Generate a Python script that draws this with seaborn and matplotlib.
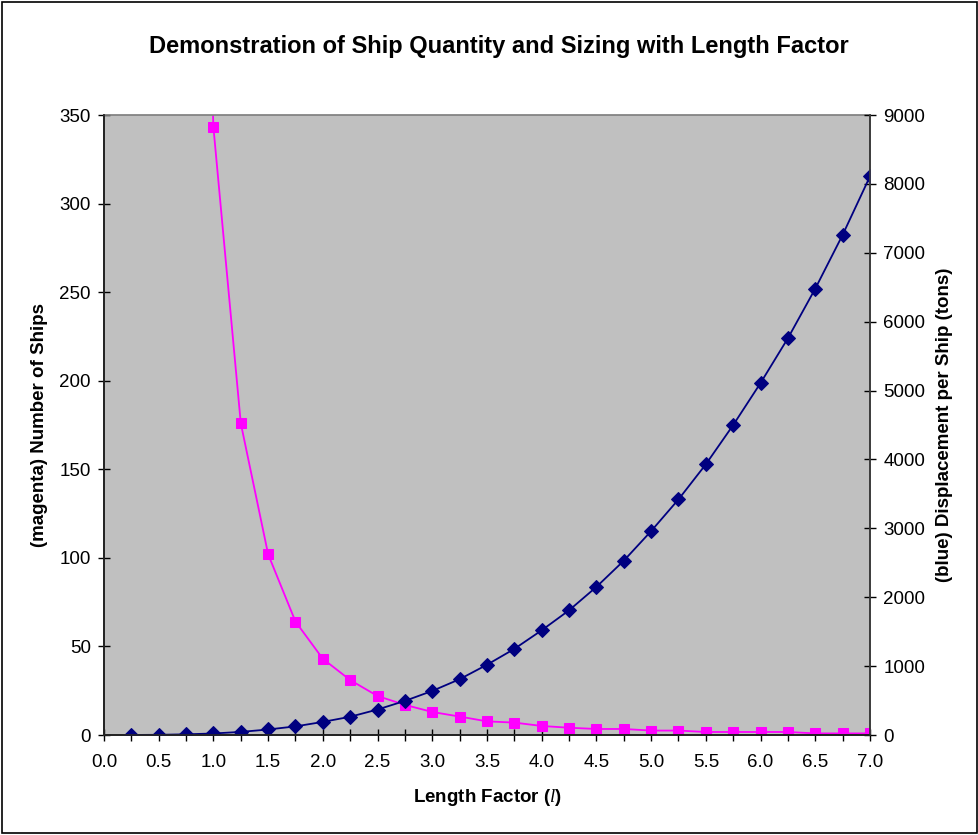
import numpy as np
import pandas as pd
import matplotlib
matplotlib.use("Agg")
import matplotlib.pyplot as plt
import matplotlib.ticker as mticker
import seaborn as sns

# length factor steps
length_factor = [0.25, 0.5, 0.75, 1.0, 1.25, 1.5, 1.75, 2.0, 2.25, 2.5, 2.75, 3.0,
                 3.25, 3.5, 3.75, 4.0, 4.25, 4.5, 4.75, 5.0, 5.25, 5.5, 5.75, 6.0,
                 6.25, 6.5, 6.75, 7.0]

# magenta series (first points are off the top of the chart)
num_ships = [21950, 2744, 813, 343, 176, 102, 64, 43, 31, 22, 17, 13,
             10.4, 7.7, 7, 5.1, 4.1, 3.4, 3.4, 2.5, 2.5, 1.7, 1.7, 1.7,
             1.7, 0.9, 0.9, 0.9]

# blue series, tons
displacement = [0.4, 3, 10, 22, 45, 80, 125, 190, 265, 370, 495, 640,
                810, 1020, 1250, 1520, 1810, 2150, 2530, 2960, 3420, 3930, 4500, 5110,
                5760, 6480, 7260, 8110]

df = pd.DataFrame({"l": length_factor, "ships": num_ships, "disp": displacement})

sns.set_theme(style="ticks")
plt.rcParams["font.family"] = ["Liberation Sans", "DejaVu Sans"]
plt.rcParams["text.color"] = "black"
plt.rcParams["axes.labelcolor"] = "black"
plt.rcParams["mathtext.fontset"] = "custom"
plt.rcParams["mathtext.it"] = "Liberation Serif:italic"
plt.rcParams["mathtext.rm"] = "Liberation Serif"

fig = plt.figure(figsize=(9.79, 8.35), dpi=100)
fig.patch.set_facecolor("white")
ax = fig.add_axes([104 / 979, 100 / 835, 766 / 979, 620 / 835])
ax.set_facecolor("#C0C0C0")
ax2 = ax.twinx()

sns.lineplot(data=df, x="l", y="ships", ax=ax, color="#FF00FF", marker="s",
             markersize=7.5, markeredgecolor="#FF00FF", linewidth=1.3)
sns.lineplot(data=df, x="l", y="disp", ax=ax2, color="#000080", marker="D",
             markersize=7, markeredgecolor="#000080", linewidth=1.3)

ax.set_xlim(0, 7)
ax.set_ylim(0, 350)
ax2.set_ylim(0, 9000)
ax.xaxis.set_major_locator(mticker.MultipleLocator(0.5))
ax.xaxis.set_minor_locator(mticker.MultipleLocator(0.25))
ax.xaxis.set_major_formatter(mticker.FormatStrFormatter("%.1f"))
ax.yaxis.set_major_locator(mticker.MultipleLocator(50))
ax2.yaxis.set_major_locator(mticker.MultipleLocator(1000))

for a in (ax, ax2):
    a.tick_params(axis="both", which="both", direction="inout", length=9,
                  width=1, labelsize=13.5, colors="black")
ax.tick_params(axis="x", pad=9)
ax.tick_params(axis="y", pad=5)
ax2.tick_params(axis="y", pad=5)

for s in ("left", "bottom"):
    ax.spines[s].set_color("black")
    ax.spines[s].set_linewidth(1.2)
ax.spines["top"].set_visible(True)
ax.spines["top"].set_color("#808080")
ax2.spines["right"].set_color("#404040")
ax2.spines["right"].set_linewidth(1.2)
ax2.spines["top"].set_visible(False)

ax.set_xlabel(r"Length Factor ($\mathit{l}$)", fontsize=13.5, fontweight="bold", labelpad=12)
ax.set_ylabel("(magenta) Number of Ships", fontsize=13.5, fontweight="bold", labelpad=8)
ax2.set_ylabel("(blue) Displacement per Ship (tons)", fontsize=13.5, fontweight="bold", labelpad=8)
ax2.yaxis.set_label_position("right")

fig.suptitle("Demonstration of Ship Quantity and Sizing with Length Factor",
             x=499 / 979, y=1 - 47 / 835, va="center", fontsize=17, fontweight="bold")

border = plt.Rectangle((0.002, 0.002), 0.996, 0.996, transform=fig.transFigure,
                       fill=False, edgecolor="black", linewidth=1.2)
fig.patches.append(border)

fig.savefig("out.png", dpi=100)
